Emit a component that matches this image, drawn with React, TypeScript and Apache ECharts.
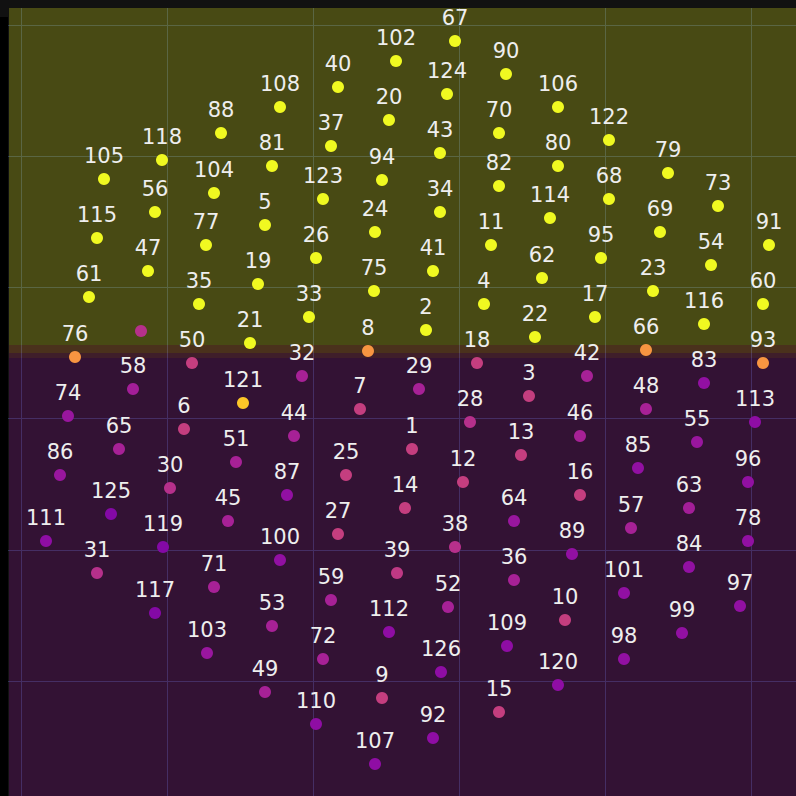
import React, { useEffect, useRef } from 'react';
import * as echarts from 'echarts';

// point positions (arbitrary units), index = label
const xs = [
  120, 391, 405, 508, 463, 244, 163, 339, 347, 361,
  544, 470, 442, 500, 384, 478, 559, 574, 456, 237,
  368, 229, 514, 632, 354, 325, 295, 317, 449, 398,
  149, 76, 281, 288, 419, 178, 493, 310, 434, 376,
  317, 412, 566, 419, 273, 207, 559, 127, 625, 244,
  171, 215, 427, 251, 690, 676, 134, 610, 112, 310,
  742, 68, 521, 668, 493, 98, 625, 434, 588, 639,
  478, 193, 302, 697, 47, 353, 54, 185, 727, 647,
  537, 251, 478, 683, 668, 617, 39, 266, 200, 551,
  485, 748, 412, 742, 361, 580, 727, 719, 603, 661,
  259, 603, 375, 186, 193, 83, 537, 354, 259, 486,
  295, 25, 368, 734, 529, 76, 683, 134, 141, 142,
  537, 222, 588, 302, 426, 90, 420,
];
const ys = [
  350, 232, 351, 285, 377, 456, 252, 272, 330, -17,
  61, 436, 199, 226, 173, -31, 186, 364, 318, 397,
  561, 338, 344, 390, 449, 206, 423, 147, 259, 292,
  193, 108, 305, 364, 469, 377, 101, 535, 134, 108,
  594, 410, 305, 528, 245, 160, 245, 410, 272, -11,
  318, 219, 74, 55, 416, 239, 469, 153, 292, 81,
  377, 384, 403, 173, 160, 232, 331, 640, 482, 449,
  548, 94, 22, 475, 265, 390, 324, 436, 140, 508,
  515, 515, 495, 298, 114, 213, 206, 186, 548, 127,
  607, 436, -57, 318, 501, 423, 199, 75, 22, 48,
  121, 88, 620, 28, 488, 502, 574, -83, 574, 35,
  -43, 140, 49, 259, 463, 443, 357, 68, 521, 134,
  -4, 278, 541, 482, 587, 167, 9,
];
// colour value (0..1 on the plasma scale)
const tones = [
  0.42, 0.47, 1, 0.47, 1, 1, 0.47, 0.47, 0.75, 0.47,
  0.47, 1, 0.47, 0.47, 0.47, 0.47, 0.47, 1, 0.47, 1,
  1, 1, 1, 1, 1, 0.47, 1, 0.47, 0.42, 0.37,
  0.42, 0.42, 0.37, 1, 1, 1, 0.37, 1, 0.42, 0.45,
  1, 1, 0.37, 1, 0.37, 0.37, 0.37, 1, 0.37, 0.37,
  0.47, 0.37, 0.37, 0.37, 1, 0.33, 1, 0.37, 0.36, 0.37,
  1, 1, 1, 0.36, 0.33, 0.37, 0.75, 1, 1, 1,
  1, 0.37, 0.37, 1, 0.33, 1, 0.75, 1, 0.31, 1,
  1, 1, 1, 0.31, 0.31, 0.31, 0.33, 0.31, 1, 0.31,
  1, 1, 0.3, 0.75, 1, 1, 0.31, 0.31, 0.31, 0.31,
  0.31, 0.31, 1, 0.33, 1, 1, 1, 0.3, 1, 0.3,
  0.3, 0.3, 0.3, 0.3, 1, 1, 1, 0.27, 1, 0.27,
  0.3, 0.88, 1, 1, 1, 0.27, 0.3,
];

// background bands (value ranges on the y axis)
const bandUpper = [673, 336, 328, 323];
const bandLower = [336, 328, 323, -131.2];
const bandColors = [
  'rgba(240,249,33,0.25)',
  'rgba(248,149,64,0.25)',
  'rgba(204,71,120,0.25)',
  'rgba(156,23,158,0.25)',
];

const plasma = [
  '#0d0887', '#41049d', '#6a00a8', '#8f0da4', '#b12a90', '#cc4778',
  '#e16462', '#f2844b', '#fca636', '#fcce25', '#f0f921',
];

export default function App() {
  const ref = useRef<HTMLDivElement>(null);
  useEffect(() => {
    const chart = echarts.init(ref.current!, null, { renderer: 'svg' });
    const points = xs.map((x, i) => [x, ys[i], tones[i], i]);
    const hidden = { show: false };
    chart.setOption({
      animation: false,
      backgroundColor: '#111',
      grid: {
        left: -125, top: -106.2, width: 1022, height: 918.4, show: false,
        outerBoundsMode: 'none', containLabel: false,
      },
      xAxis: {
        type: 'value', min: -146, max: 876, interval: 146,
        axisLine: hidden, axisTick: hidden, axisLabel: hidden,
        splitLine: { show: true, lineStyle: { color: '#283650', width: 1 } },
      },
      yAxis: {
        type: 'value', min: -131.2, max: 787.2, interval: 131.2,
        axisLine: hidden, axisTick: hidden, axisLabel: hidden,
        splitLine: { show: true, lineStyle: { color: '#283650', width: 1 } },
      },
      visualMap: {
        type: 'continuous', show: false, min: 0, max: 1, dimension: 2,
        seriesIndex: 1, inRange: { color: plasma },
      },
      series: [
        {
          type: 'scatter',
          data: [],
          silent: true,
          markArea: {
            silent: true,
            label: { show: false },
            data: bandUpper.map((u, i) => [
              { xAxis: -12, yAxis: u, itemStyle: { color: bandColors[i], opacity: 1 } },
              { xAxis: 876, yAxis: bandLower[i] },
            ]),
          },
        },
        {
          type: 'scatter',
          z: 3,
          symbolSize: 12,
          itemStyle: { opacity: 1 },
          data: points,
          label: {
            show: true,
            position: 'top',
            distance: 7,
            color: '#eeeeee',
            fontSize: 21,
            fontFamily: 'DejaVu Sans',
            formatter: (p: any) => (p.dataIndex === 0 ? '' : String(p.dataIndex)),
          },
        },
      ],
      graphic: [
        { type: 'rect', z: 100, shape: { x: 0, y: 0, width: 796, height: 8 }, style: { fill: '#111' } },
        { type: 'rect', z: 100, shape: { x: 0, y: 17, width: 8, height: 779 }, style: { fill: '#000' } },
      ],
    });
    return () => chart.dispose();
  }, []);
  return (
    <div
      ref={ref}
      style={{ position: 'fixed', left: 0, top: 0, width: 796, height: 796 }}
    />
  );
}
